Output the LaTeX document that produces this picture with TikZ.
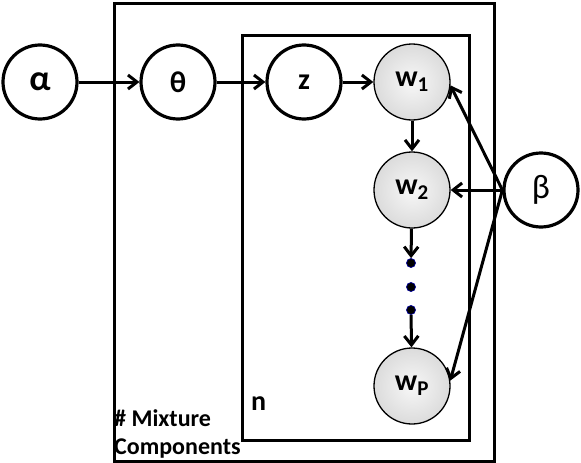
\documentclass[tikz,border=0pt]{standalone}
\usepackage{fontspec}
\setmainfont{Carlito}
\usetikzlibrary{arrows.meta}
\begin{document}
\begin{tikzpicture}[x=1pt,y=-1pt,
  var/.style={circle,draw,line width=3.2pt,minimum size=74pt,inner sep=0pt,font=\fontsize{30}{32}\selectfont\bfseries},
  obs/.style={circle,draw,line width=1.3pt,minimum size=76pt,inner sep=0pt,shading=radial,inner color=gray!6,outer color=gray!28,font=\fontsize{30}{32}\selectfont\bfseries},
  plate/.style={draw,line width=2.6pt,minimum width=#1,inner sep=0pt},
  lbl/.style={font=\fontsize{24}{28}\selectfont\bfseries,inner sep=1pt,align=left},
  arr/.style={-{Straight Barb[length=9pt,width=14pt]},line width=3pt},
  dotnode/.style={circle,fill=black,draw=blue!60!black,line width=0.7pt,minimum size=9pt,inner sep=0pt}]
\useasboundingbox (0,0) rectangle (581,463);
\node[plate=380pt,minimum height=458pt,anchor=north west] (outerplate) at (113,2) {};
\node[plate=227pt,minimum height=405pt,anchor=north west] (innerplate) at (241,34) {};
\node[var,font=\fontsize{36}{38}\selectfont\bfseries] (alpha) at (40,82) {α};
\node[var] (theta) at (178,82) {θ};
\node[var] (z) at (304,82) {z};
\node[obs] (w1) at (412,82) {w\textsubscript{1}};
\node[obs] (w2) at (412,190) {w\textsubscript{2}};
\node[dotnode] (d1) at (411,263) {};
\node[dotnode] (d2) at (411,287) {};
\node[dotnode] (d3) at (411,310) {};
\node[obs] (wp) at (412,386) {w\textsubscript{P}};
\node[var,font=\fontsize{34}{36}\selectfont] (beta) at (541,190) {β};
\node[lbl,anchor=south west] (mix) at (113,459) {\# Mixture\\Components};
\node[lbl,anchor=west,font=\fontsize{28}{30}\selectfont\bfseries] (n) at (250,404) {n};
\draw[arr] (alpha) -- (theta);
\draw[arr] (theta) -- (z);
\draw[arr] (z) -- (w1);
\draw[arr] (w1) -- (w2);
\draw[arr] (w2) -- (d1);
\draw[arr] (d3) -- (wp);
\draw[arr] (beta.west) -- (w1.-5);
\draw[arr] (beta.west) -- (w2.east);
\draw[arr] (beta.west) -- (wp.8);
\end{tikzpicture}
\end{document}
